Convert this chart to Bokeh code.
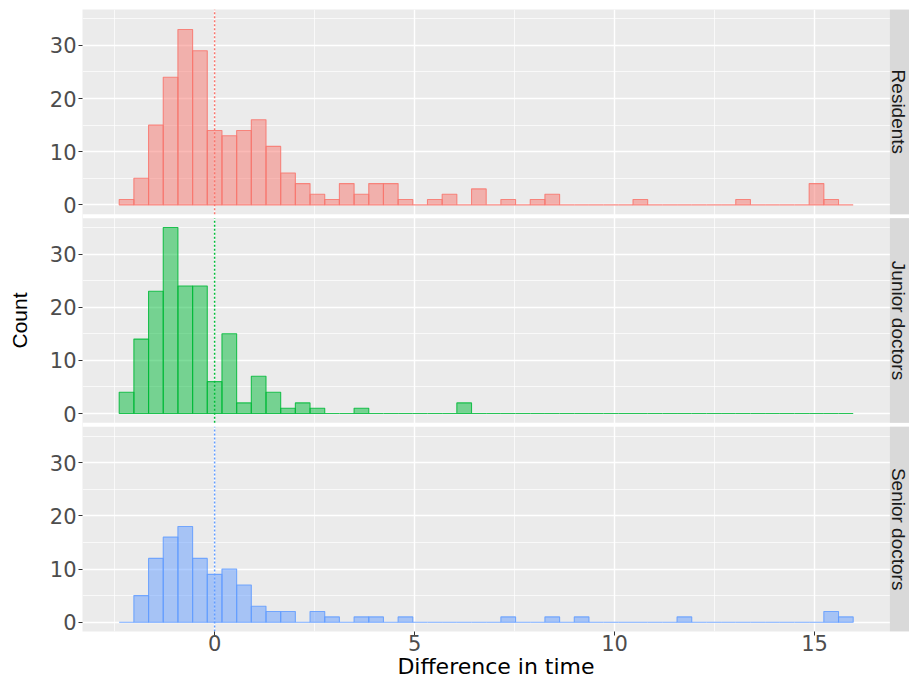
import math
from bokeh.plotting import figure
from bokeh.models import FixedTicker, Range1d
from bokeh.core.properties import value
from bokeh.embed import file_html
from bokeh.resources import INLINE

# ---------------- data ----------------
groups = ["Residents", "Junior doctors", "Senior doctors"]
colors = ["#F8766D", "#00BA38", "#619CFF"]
bin_width = 0.367
first_bin = -6          # bins are centred on k * bin_width, k = -6 .. 43
residents = [1, 5, 15, 24, 33, 29, 14, 13, 14, 16,
             11, 6, 4, 2, 1, 4, 2, 4, 4, 1,
             0, 1, 2, 0, 3, 0, 1, 0, 1, 2,
             0, 0, 0, 0, 0, 1, 0, 0, 0, 0,
             0, 0, 1, 0, 0, 0, 0, 4, 1, 0]
junior = [4, 14, 23, 35, 24, 24, 6, 15, 2, 7,
          4, 1, 2, 1, 0, 0, 1, 0, 0, 0,
          0, 0, 0, 2, 0, 0, 0, 0, 0, 0,
          0, 0, 0, 0, 0, 0, 0, 0, 0, 0,
          0, 0, 0, 0, 0, 0, 0, 0, 0, 0]
senior = [0, 5, 12, 16, 18, 12, 9, 10, 7, 3,
          2, 2, 0, 2, 1, 0, 1, 1, 0, 1,
          0, 0, 0, 0, 0, 0, 1, 0, 0, 1,
          0, 1, 0, 0, 0, 0, 0, 0, 1, 0,
          0, 0, 0, 0, 0, 0, 0, 0, 2, 1]
x_ticks = [0, 5, 10, 15]
x_minor = [-2.5, 2.5, 7.5, 12.5]
y_ticks = [0, 10, 20, 30]
y_minor = [5, 15, 25, 35]
ref_x = 0
x_title = "Difference in time"
y_title = "Count"
series = [residents, junior, senior]

# ---------------- derived geometry ----------------
n_bins = len(residents)
edges = [(first_bin + i - 0.5) * bin_width for i in range(n_bins + 1)]
span_x = edges[-1] - edges[0]
x_lo = edges[0] - 0.05 * span_x
x_hi = edges[-1] + 0.05 * span_x
strip_w = 0.49
x_end = x_hi + strip_w
y_max = 35
y_lo = -0.05 * y_max
y_hi = y_max * 1.05
panel_span = y_hi - y_lo
gap = 0.75
n_pan = len(series)
bases = [(n_pan - 1 - j) * (panel_span + gap) for j in range(n_pan)]

FONT_H = "DejaVu Sans"
FONT_R = "Liberation Sans"

p = figure(width=909, height=682,
           x_range=Range1d(x_lo, x_end),
           y_range=Range1d(bases[-1] + y_lo, bases[0] + y_hi),
           output_backend="svg", toolbar_location=None,
           min_border_left=82, min_border_right=0,
           min_border_top=9, min_border_bottom=51)
p.background_fill_color = "#EBEBEB"
p.border_fill_color = "white"
p.outline_line_color = None

ymaj = [b + t for b in bases for t in y_ticks]
ymin = [b + m for b in bases for m in y_minor]
p.xgrid.ticker = FixedTicker(ticks=x_ticks, minor_ticks=x_minor)
p.ygrid.ticker = FixedTicker(ticks=ymaj, minor_ticks=ymin)
for g in (p.xgrid, p.ygrid):
    g.grid_line_color = "white"
    g.grid_line_width = 1.4
    g.minor_grid_line_color = "white"
    g.minor_grid_line_width = 0.7

# white gaps between panels
for j in range(n_pan - 1):
    p.quad(left=[x_lo], right=[x_end], bottom=[bases[j + 1] + y_hi],
           top=[bases[j] + y_lo], fill_color="white", line_color=None)

for j, (counts, color, label) in enumerate(zip(series, colors, groups)):
    b = bases[j]
    # strip
    p.quad(left=[x_hi], right=[x_end], bottom=[b + y_lo], top=[b + y_hi],
           fill_color="#D9D9D9", line_color=None)
    p.text(x=[x_hi + strip_w * 0.46], y=[b + (y_lo + y_hi) / 2], text=[label],
           angle=-math.pi / 2, text_align="center", text_baseline="middle",
           text_font=value(FONT_R), text_font_size="19px", text_color="#1A1A1A")
    # histogram
    p.quad(left=edges[:-1], right=edges[1:], bottom=[b] * n_bins,
           top=[b + c for c in counts],
           fill_color=color, fill_alpha=0.5, line_color=color, line_alpha=0.85,
           line_width=1.1)
    # reference line at 0
    p.segment(x0=[ref_x], y0=[b + y_lo], x1=[ref_x], y1=[b + y_hi],
              line_color=color, line_dash="2 2", line_width=1.5)

ya = p.yaxis[0]
ya.ticker = FixedTicker(ticks=ymaj)
ya.major_label_overrides = {b + t: str(t) for b in bases for t in y_ticks}
ya.axis_line_color = None
ya.major_tick_in = 0
ya.major_tick_out = 4
ya.major_tick_line_color = "#333333"
ya.minor_tick_line_color = None
ya.major_label_text_font = FONT_H
ya.major_label_text_font_size = "21px"
ya.major_label_text_color = "#4D4D4D"
ya.major_label_standoff = 2
ya.axis_label = y_title
ya.axis_label_text_font = FONT_R
ya.axis_label_text_font_size = "21px"
ya.axis_label_text_font_style = "normal"
ya.axis_label_text_color = "black"
ya.axis_label_standoff = 16

xa = p.xaxis[0]
xa.ticker = FixedTicker(ticks=x_ticks, minor_ticks=x_minor)
xa.axis_line_color = None
xa.major_tick_in = 0
xa.major_tick_out = 4
xa.major_tick_line_color = "#333333"
xa.minor_tick_line_color = None
xa.major_label_text_font = FONT_H
xa.major_label_text_font_size = "21px"
xa.major_label_text_color = "#4D4D4D"
xa.major_label_standoff = -1
xa.axis_label = x_title
xa.axis_label_text_font = FONT_H
xa.axis_label_text_font_size = "22px"
xa.axis_label_text_font_style = "normal"
xa.axis_label_text_color = "black"
xa.axis_label_standoff = 0

open("out.html", "w").write(file_html(p, INLINE))
